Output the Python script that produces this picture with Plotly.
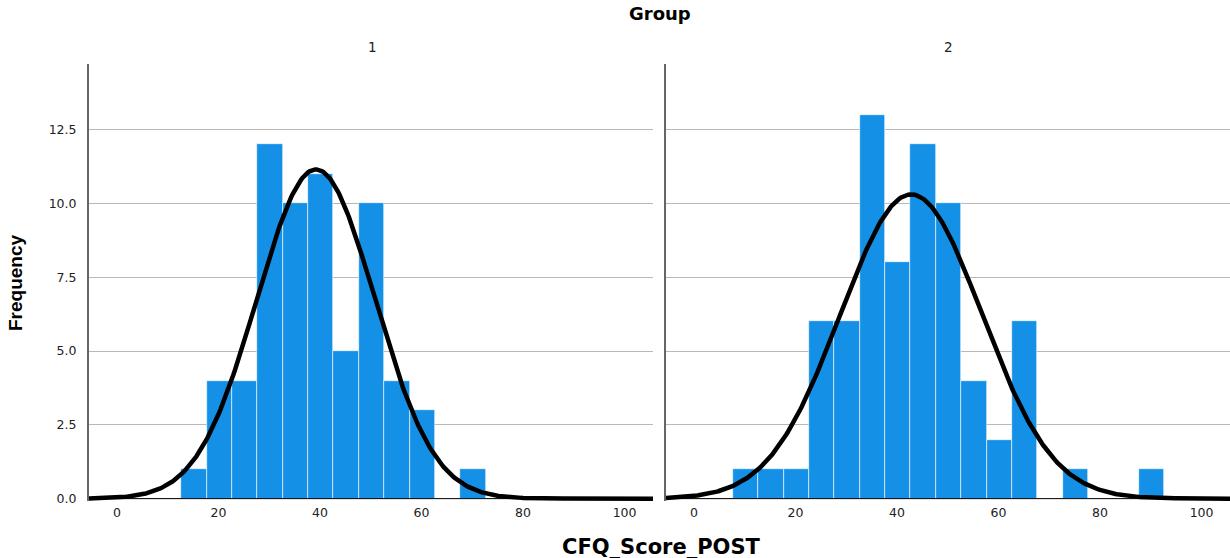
import numpy as np
import plotly.graph_objects as go

# ---- data ----
bin_width = 5
g1_bin_start = 12.65
g1_counts = [1, 4, 4, 12, 10, 11, 5, 10, 4, 3, 0, 1]
g2_bin_start = 7.65
g2_counts = [1, 1, 1, 6, 6, 13, 8, 12, 10, 4, 2, 6, 0, 1, 0, 0, 1]
g1_n, g1_mean, g1_sd = 65, 39.2, 11.63
g2_n, g2_mean, g2_sd = 72, 42.8, 13.94
panel_labels = ["1", "2"]
y_ticks = [0, 2.5, 5, 7.5, 10, 12.5]
x_ticks = [0, 20, 40, 60, 80, 100]

BAR = "rgb(20,144,230)"
FONT = "DejaVu Sans"
x_range = [-5.5, 105.6]
y_range = [-0.08, 14.72]

fig = go.Figure()

groups = [(g1_bin_start, g1_counts, g1_n, g1_mean, g1_sd),
          (g2_bin_start, g2_counts, g2_n, g2_mean, g2_sd)]
for i, (start, counts, n, mu, sd) in enumerate(groups):
    xa = "x" if i == 0 else "x2"
    ya = "y" if i == 0 else "y2"
    centers = [start + bin_width * (k + 0.5) for k in range(len(counts))]
    fig.add_trace(go.Bar(x=centers, y=counts, width=bin_width, xaxis=xa, yaxis=ya,
                         marker=dict(color=BAR, line=dict(color="white", width=0.6)),
                         showlegend=False, hoverinfo="x+y"))
    xs = np.linspace(x_range[0], x_range[1], 400)
    ys = n * bin_width / (sd * np.sqrt(2 * np.pi)) * np.exp(-0.5 * ((xs - mu) / sd) ** 2)
    fig.add_trace(go.Scatter(x=xs, y=ys, mode="lines", xaxis=xa, yaxis=ya,
                             line=dict(color="black", width=4.5), showlegend=False,
                             hoverinfo="skip"))

W, H = 1230, 558
ml, mr, mt, mb = 89, 0, 64, 57
pw = W - ml - mr
ph = H - mt - mb
d1 = [0, (653 - ml) / pw]
d2 = [(666 - ml) / pw, 1]

xcommon = dict(range=x_range, tickvals=x_ticks, showgrid=False, zeroline=False,
               showline=False, ticks="", tickfont=dict(family=FONT, size=12.5, color="#222"),
               ticklabelstandoff=2)
ycommon = dict(range=y_range, tickvals=y_ticks, showgrid=True, gridcolor="#b8b8b8",
               gridwidth=1, zeroline=False, showline=True, linecolor="#666",
               linewidth=2, ticks="")

fig.update_layout(
    width=W, height=H,
    margin=dict(l=ml, r=mr, t=mt, b=mb),
    paper_bgcolor="white", plot_bgcolor="white",
    bargap=0,
    xaxis=dict(domain=d1, anchor="y", **xcommon),
    xaxis2=dict(domain=d2, anchor="y2", **xcommon),
    yaxis=dict(domain=[0, 1], anchor="x", tickformat=".1f",
               tickfont=dict(family=FONT, size=12.5, color="#222"),
               ticklabelstandoff=8, **ycommon),
    yaxis2=dict(domain=[0, 1], anchor="x2", showticklabels=False, **ycommon),
    font=dict(family=FONT, color="black"),
)

# x axis baseline at zero
for xr, yr in [("x", "y"), ("x2", "y2")]:
    fig.add_shape(type="line", xref=xr, yref=yr, x0=x_range[0], x1=x_range[1],
                  y0=0, y1=0, line=dict(color="black", width=1), layer="above")

def py(pix):
    return (H - mb - pix) / ph

def px(pix):
    return (pix - ml) / pw

fig.add_annotation(text="<b>Group</b>", x=px(660), y=py(14), xref="paper", yref="paper",
                   showarrow=False, font=dict(family=FONT, size=18, color="black"),
                   xanchor="center", yanchor="middle")
fig.add_annotation(text=panel_labels[0], x=px(372), y=py(47), xref="paper", yref="paper",
                   showarrow=False, font=dict(family=FONT, size=13.5, color="#222"),
                   xanchor="center", yanchor="middle")
fig.add_annotation(text=panel_labels[1], x=px(948), y=py(47), xref="paper", yref="paper",
                   showarrow=False, font=dict(family=FONT, size=13.5, color="#222"),
                   xanchor="center", yanchor="middle")
fig.add_annotation(text="<b>Frequency</b>", x=px(15), y=py(283), xref="paper", yref="paper",
                   showarrow=False, textangle=-90,
                   font=dict(family="Liberation Sans", size=19, color="black"),
                   xanchor="center", yanchor="middle")
fig.add_annotation(text="<b>CFQ_Score_POST</b>", x=px(661), y=py(547), xref="paper", yref="paper",
                   showarrow=False, font=dict(family=FONT, size=21, color="black"),
                   xanchor="center", yanchor="middle")

fig.write_html("out.html")
